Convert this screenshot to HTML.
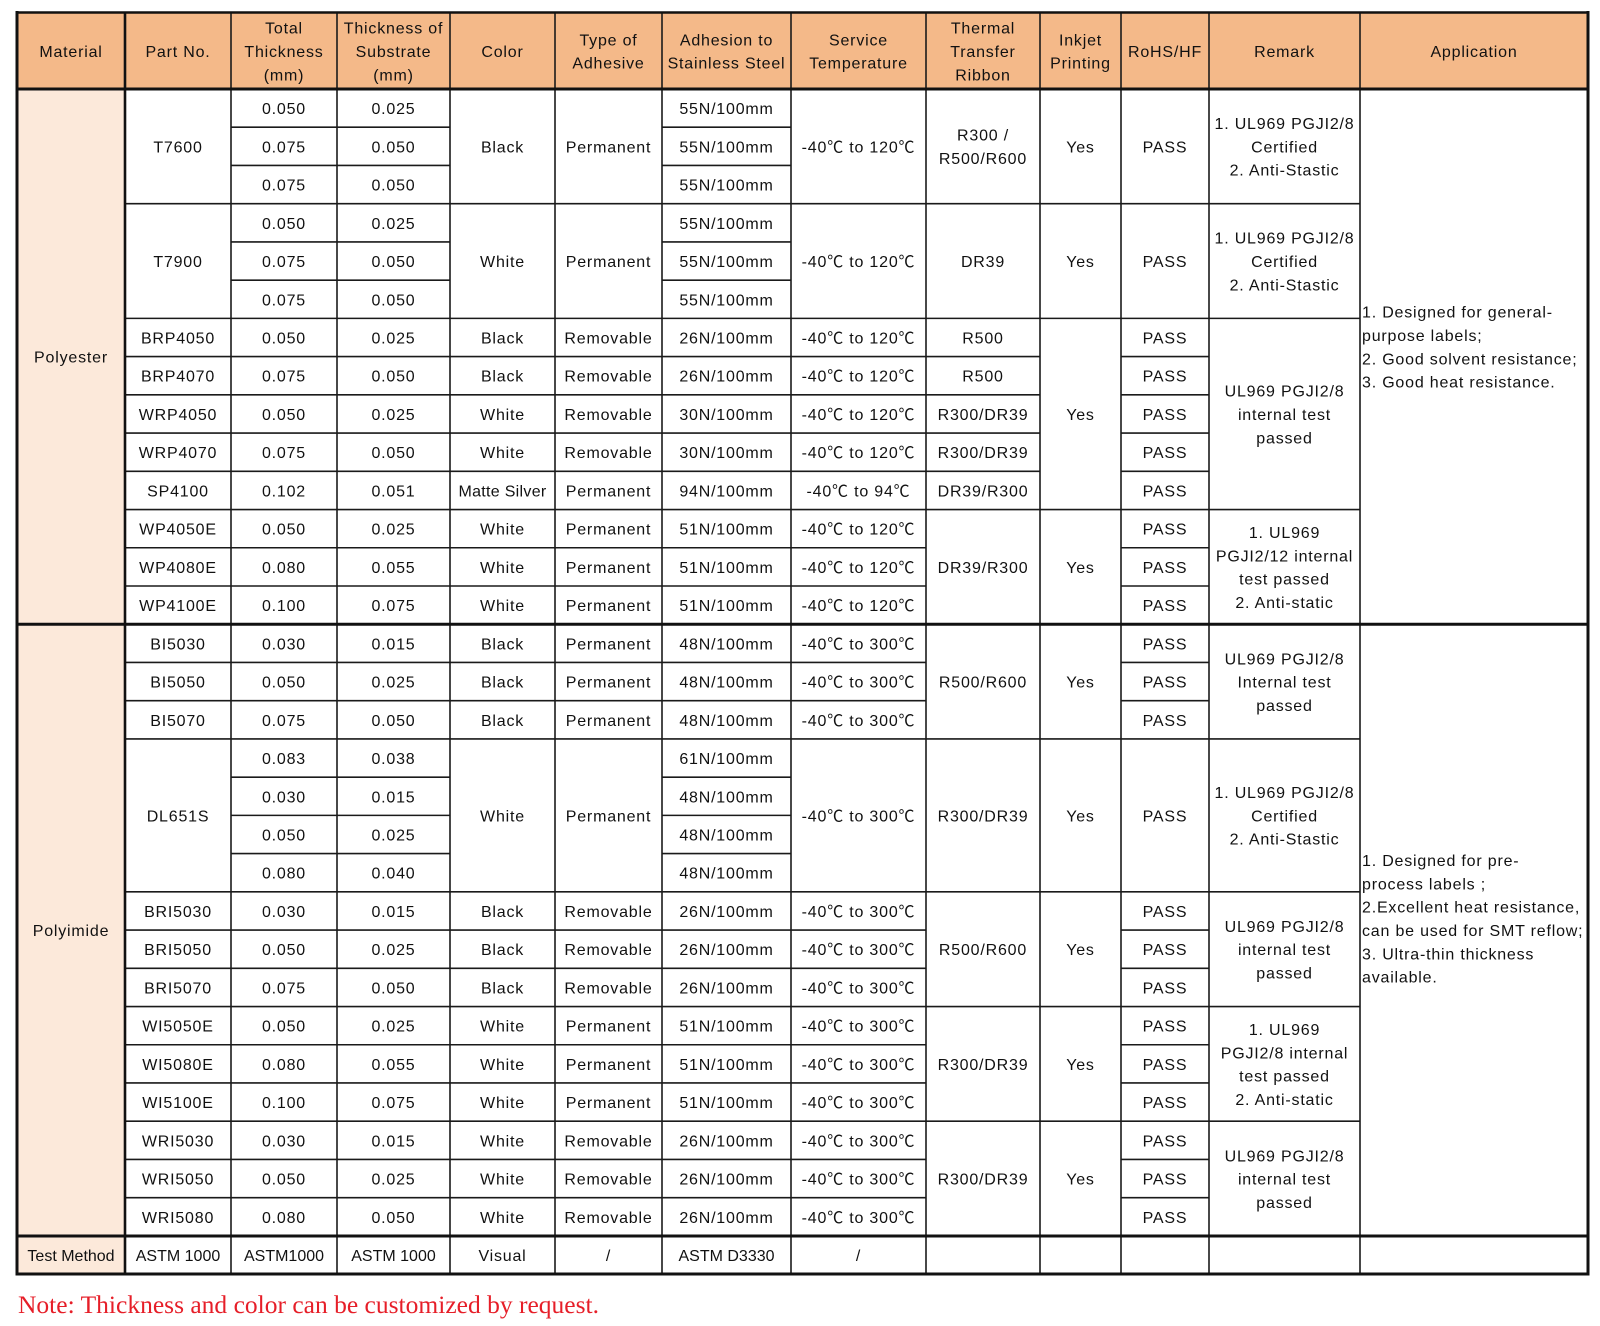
<!DOCTYPE html>
<html><head><meta charset="utf-8"><style>
html,body{margin:0;padding:0;background:#fff;}
svg{display:block;}
text{font-family:"Liberation Sans","Noto Sans CJK SC",sans-serif;font-size:16px;letter-spacing:0.8px;fill:#111;}
.c{text-anchor:middle;}
.note{font-family:"Liberation Serif","Noto Serif CJK SC",serif;font-size:25px;letter-spacing:0;fill:#E61E28;}
</style></head><body>
<svg width="1600" height="1326" viewBox="0 0 1600 1326" xmlns="http://www.w3.org/2000/svg">
<rect x="0" y="0" width="1600" height="1326" fill="#fff"/>
<!-- fills -->
<rect x="17" y="12.5" width="1571" height="76.5" fill="#F4B989"/>
<rect x="17" y="89" width="108" height="1185" fill="#FCE9DA"/>

<!-- thin horizontal lines -->
<g stroke="#1a1a1a" stroke-width="1.6">
<!-- b1,b2,b4,b5,b18,b19,b20 -->
<line x1="231" x2="450" y1="127.23" y2="127.23"/><line x1="662" x2="791" y1="127.23" y2="127.23"/>
<line x1="231" x2="450" y1="165.46" y2="165.46"/><line x1="662" x2="791" y1="165.46" y2="165.46"/>
<line x1="231" x2="450" y1="241.92" y2="241.92"/><line x1="662" x2="791" y1="241.92" y2="241.92"/>
<line x1="231" x2="450" y1="280.15" y2="280.15"/><line x1="662" x2="791" y1="280.15" y2="280.15"/>
<line x1="231" x2="450" y1="777.14" y2="777.14"/><line x1="662" x2="791" y1="777.14" y2="777.14"/>
<line x1="231" x2="450" y1="815.37" y2="815.37"/><line x1="662" x2="791" y1="815.37" y2="815.37"/>
<line x1="231" x2="450" y1="853.6" y2="853.6"/><line x1="662" x2="791" y1="853.6" y2="853.6"/>
<!-- full inner: b3,b6,b11,b17,b21,b24,b27 -->
<line x1="125" x2="1360" y1="203.69" y2="203.69"/>
<line x1="125" x2="1360" y1="318.38" y2="318.38"/>
<line x1="125" x2="1360" y1="509.53" y2="509.53"/>
<line x1="125" x2="1360" y1="738.91" y2="738.91"/>
<line x1="125" x2="1360" y1="891.83" y2="891.83"/>
<line x1="125" x2="1360" y1="1006.52" y2="1006.52"/>
<line x1="125" x2="1360" y1="1121.21" y2="1121.21"/>
<!-- b7..b10 -->
<line x1="125" x2="1040" y1="356.61" y2="356.61"/><line x1="1121" x2="1209" y1="356.61" y2="356.61"/>
<line x1="125" x2="1040" y1="394.84" y2="394.84"/><line x1="1121" x2="1209" y1="394.84" y2="394.84"/>
<line x1="125" x2="1040" y1="433.07" y2="433.07"/><line x1="1121" x2="1209" y1="433.07" y2="433.07"/>
<line x1="125" x2="1040" y1="471.3" y2="471.3"/><line x1="1121" x2="1209" y1="471.3" y2="471.3"/>
<!-- b12,13,15,16,22,23,25,26,28,29 -->
<line x1="125" x2="926" y1="547.76" y2="547.76"/><line x1="1121" x2="1209" y1="547.76" y2="547.76"/>
<line x1="125" x2="926" y1="585.99" y2="585.99"/><line x1="1121" x2="1209" y1="585.99" y2="585.99"/>
<line x1="125" x2="926" y1="662.45" y2="662.45"/><line x1="1121" x2="1209" y1="662.45" y2="662.45"/>
<line x1="125" x2="926" y1="700.68" y2="700.68"/><line x1="1121" x2="1209" y1="700.68" y2="700.68"/>
<line x1="125" x2="926" y1="930.06" y2="930.06"/><line x1="1121" x2="1209" y1="930.06" y2="930.06"/>
<line x1="125" x2="926" y1="968.29" y2="968.29"/><line x1="1121" x2="1209" y1="968.29" y2="968.29"/>
<line x1="125" x2="926" y1="1044.75" y2="1044.75"/><line x1="1121" x2="1209" y1="1044.75" y2="1044.75"/>
<line x1="125" x2="926" y1="1082.98" y2="1082.98"/><line x1="1121" x2="1209" y1="1082.98" y2="1082.98"/>
<line x1="125" x2="926" y1="1159.44" y2="1159.44"/><line x1="1121" x2="1209" y1="1159.44" y2="1159.44"/>
<line x1="125" x2="926" y1="1197.67" y2="1197.67"/><line x1="1121" x2="1209" y1="1197.67" y2="1197.67"/>
<!-- vertical thin -->
<line x1="231" x2="231" y1="12.5" y2="1274"/>
<line x1="337" x2="337" y1="12.5" y2="1274"/>
<line x1="450" x2="450" y1="12.5" y2="1274"/>
<line x1="555" x2="555" y1="12.5" y2="1274"/>
<line x1="662" x2="662" y1="12.5" y2="1274"/>
<line x1="791" x2="791" y1="12.5" y2="1274"/>
<line x1="926" x2="926" y1="12.5" y2="1274"/>
<line x1="1040" x2="1040" y1="12.5" y2="1274"/>
<line x1="1121" x2="1121" y1="12.5" y2="1274"/>
<line x1="1209" x2="1209" y1="12.5" y2="1274"/>
<line x1="1360" x2="1360" y1="12.5" y2="1274"/>
</g>
<!-- thick lines -->
<g stroke="#111" stroke-width="3">
<line x1="125" x2="125" y1="12.5" y2="1274" stroke-width="2.6"/>
<line x1="17" x2="17" y1="11" y2="1275.5"/>
<line x1="1588" x2="1588" y1="11" y2="1275.5"/>
<line x1="17" x2="1588" y1="12.5" y2="12.5" stroke-width="2.4"/>
<line x1="17" x2="1588" y1="89" y2="89"/>
<line x1="17" x2="1588" y1="624.22" y2="624.22"/>
<line x1="17" x2="1588" y1="1236" y2="1236"/>
<line x1="17" x2="1588" y1="1274" y2="1274"/>
</g>

<!-- header -->
<text class="c" x="71" y="57">Material</text>
<text class="c" x="178" y="57">Part No.</text>
<text class="c" x="284" y="33.7">Total</text><text class="c" x="284" y="57">Thickness</text><text class="c" x="284" y="80.3">(mm)</text>
<text class="c" x="393.5" y="33.7">Thickness of</text><text class="c" x="393.5" y="57">Substrate</text><text class="c" x="393.5" y="80.3">(mm)</text>
<text class="c" x="502.5" y="57">Color</text>
<text class="c" x="608.5" y="45.4">Type of</text><text class="c" x="608.5" y="68.7">Adhesive</text>
<text class="c" x="726.5" y="45.4">Adhesion to</text><text class="c" x="726.5" y="68.7">Stainless Steel</text>
<text class="c" x="858.5" y="45.4">Service</text><text class="c" x="858.5" y="68.7">Temperature</text>
<text class="c" x="983" y="33.7">Thermal</text><text class="c" x="983" y="57">Transfer</text><text class="c" x="983" y="80.3">Ribbon</text>
<text class="c" x="1080.5" y="45.4">Inkjet</text><text class="c" x="1080.5" y="68.7">Printing</text>
<text class="c" x="1165" y="57">RoHS/HF</text>
<text class="c" x="1284.5" y="57">Remark</text>
<text class="c" x="1474" y="57">Application</text>

<!-- Material -->
<text class="c" x="71" y="362.6">Polyester</text>
<text class="c" x="71" y="936.1">Polyimide</text>

<!-- Part No -->
<text class="c" x="178" y="152.3">T7600</text>
<text class="c" x="178" y="267.0">T7900</text>
<text class="c" x="178" y="343.5">BRP4050</text>
<text class="c" x="178" y="381.7">BRP4070</text>
<text class="c" x="178" y="420.0">WRP4050</text>
<text class="c" x="178" y="458.2">WRP4070</text>
<text class="c" x="178" y="496.4">SP4100</text>
<text class="c" x="178" y="534.6">WP4050E</text>
<text class="c" x="178" y="572.9">WP4080E</text>
<text class="c" x="178" y="611.1">WP4100E</text>
<text class="c" x="178" y="649.3">BI5030</text>
<text class="c" x="178" y="687.6">BI5050</text>
<text class="c" x="178" y="725.8">BI5070</text>
<text class="c" x="178" y="821.4">DL651S</text>
<text class="c" x="178" y="917.0">BRI5030</text>
<text class="c" x="178" y="955.2">BRI5050</text>
<text class="c" x="178" y="993.4">BRI5070</text>
<text class="c" x="178" y="1031.7">WI5050E</text>
<text class="c" x="178" y="1069.9">WI5080E</text>
<text class="c" x="178" y="1108.1">WI5100E</text>
<text class="c" x="178" y="1146.3">WRI5030</text>
<text class="c" x="178" y="1184.6">WRI5050</text>
<text class="c" x="178" y="1222.8">WRI5080</text>

<!-- Total thickness -->
<text class="c" x="284" y="114.1">0.050</text>
<text class="c" x="284" y="152.3">0.075</text>
<text class="c" x="284" y="190.6">0.075</text>
<text class="c" x="284" y="228.8">0.050</text>
<text class="c" x="284" y="267.0">0.075</text>
<text class="c" x="284" y="305.3">0.075</text>
<text class="c" x="284" y="343.5">0.050</text>
<text class="c" x="284" y="381.7">0.075</text>
<text class="c" x="284" y="420.0">0.050</text>
<text class="c" x="284" y="458.2">0.075</text>
<text class="c" x="284" y="496.4">0.102</text>
<text class="c" x="284" y="534.6">0.050</text>
<text class="c" x="284" y="572.9">0.080</text>
<text class="c" x="284" y="611.1">0.100</text>
<text class="c" x="284" y="649.3">0.030</text>
<text class="c" x="284" y="687.6">0.050</text>
<text class="c" x="284" y="725.8">0.075</text>
<text class="c" x="284" y="764.0">0.083</text>
<text class="c" x="284" y="802.3">0.030</text>
<text class="c" x="284" y="840.5">0.050</text>
<text class="c" x="284" y="878.7">0.080</text>
<text class="c" x="284" y="917.0">0.030</text>
<text class="c" x="284" y="955.2">0.050</text>
<text class="c" x="284" y="993.4">0.075</text>
<text class="c" x="284" y="1031.7">0.050</text>
<text class="c" x="284" y="1069.9">0.080</text>
<text class="c" x="284" y="1108.1">0.100</text>
<text class="c" x="284" y="1146.3">0.030</text>
<text class="c" x="284" y="1184.6">0.050</text>
<text class="c" x="284" y="1222.8">0.080</text>

<!-- Substrate -->
<text class="c" x="393.5" y="114.1">0.025</text>
<text class="c" x="393.5" y="152.3">0.050</text>
<text class="c" x="393.5" y="190.6">0.050</text>
<text class="c" x="393.5" y="228.8">0.025</text>
<text class="c" x="393.5" y="267.0">0.050</text>
<text class="c" x="393.5" y="305.3">0.050</text>
<text class="c" x="393.5" y="343.5">0.025</text>
<text class="c" x="393.5" y="381.7">0.050</text>
<text class="c" x="393.5" y="420.0">0.025</text>
<text class="c" x="393.5" y="458.2">0.050</text>
<text class="c" x="393.5" y="496.4">0.051</text>
<text class="c" x="393.5" y="534.6">0.025</text>
<text class="c" x="393.5" y="572.9">0.055</text>
<text class="c" x="393.5" y="611.1">0.075</text>
<text class="c" x="393.5" y="649.3">0.015</text>
<text class="c" x="393.5" y="687.6">0.025</text>
<text class="c" x="393.5" y="725.8">0.050</text>
<text class="c" x="393.5" y="764.0">0.038</text>
<text class="c" x="393.5" y="802.3">0.015</text>
<text class="c" x="393.5" y="840.5">0.025</text>
<text class="c" x="393.5" y="878.7">0.040</text>
<text class="c" x="393.5" y="917.0">0.015</text>
<text class="c" x="393.5" y="955.2">0.025</text>
<text class="c" x="393.5" y="993.4">0.050</text>
<text class="c" x="393.5" y="1031.7">0.025</text>
<text class="c" x="393.5" y="1069.9">0.055</text>
<text class="c" x="393.5" y="1108.1">0.075</text>
<text class="c" x="393.5" y="1146.3">0.015</text>
<text class="c" x="393.5" y="1184.6">0.025</text>
<text class="c" x="393.5" y="1222.8">0.050</text>

<!-- Color -->
<text class="c" x="502.5" y="152.3">Black</text>
<text class="c" x="502.5" y="267.0">White</text>
<text class="c" x="502.5" y="343.5">Black</text>
<text class="c" x="502.5" y="381.7">Black</text>
<text class="c" x="502.5" y="420.0">White</text>
<text class="c" x="502.5" y="458.2">White</text>
<text class="c" x="502.5" y="496.4" style="letter-spacing:0.3px">Matte Silver</text>
<text class="c" x="502.5" y="534.6">White</text>
<text class="c" x="502.5" y="572.9">White</text>
<text class="c" x="502.5" y="611.1">White</text>
<text class="c" x="502.5" y="649.3">Black</text>
<text class="c" x="502.5" y="687.6">Black</text>
<text class="c" x="502.5" y="725.8">Black</text>
<text class="c" x="502.5" y="821.4">White</text>
<text class="c" x="502.5" y="917.0">Black</text>
<text class="c" x="502.5" y="955.2">Black</text>
<text class="c" x="502.5" y="993.4">Black</text>
<text class="c" x="502.5" y="1031.7">White</text>
<text class="c" x="502.5" y="1069.9">White</text>
<text class="c" x="502.5" y="1108.1">White</text>
<text class="c" x="502.5" y="1146.3">White</text>
<text class="c" x="502.5" y="1184.6">White</text>
<text class="c" x="502.5" y="1222.8">White</text>

<!-- Type of adhesive -->
<text class="c" x="608.5" y="152.3">Permanent</text>
<text class="c" x="608.5" y="267.0">Permanent</text>
<text class="c" x="608.5" y="343.5">Removable</text>
<text class="c" x="608.5" y="381.7">Removable</text>
<text class="c" x="608.5" y="420.0">Removable</text>
<text class="c" x="608.5" y="458.2">Removable</text>
<text class="c" x="608.5" y="496.4">Permanent</text>
<text class="c" x="608.5" y="534.6">Permanent</text>
<text class="c" x="608.5" y="572.9">Permanent</text>
<text class="c" x="608.5" y="611.1">Permanent</text>
<text class="c" x="608.5" y="649.3">Permanent</text>
<text class="c" x="608.5" y="687.6">Permanent</text>
<text class="c" x="608.5" y="725.8">Permanent</text>
<text class="c" x="608.5" y="821.4">Permanent</text>
<text class="c" x="608.5" y="917.0">Removable</text>
<text class="c" x="608.5" y="955.2">Removable</text>
<text class="c" x="608.5" y="993.4">Removable</text>
<text class="c" x="608.5" y="1031.7">Permanent</text>
<text class="c" x="608.5" y="1069.9">Permanent</text>
<text class="c" x="608.5" y="1108.1">Permanent</text>
<text class="c" x="608.5" y="1146.3">Removable</text>
<text class="c" x="608.5" y="1184.6">Removable</text>
<text class="c" x="608.5" y="1222.8">Removable</text>

<!-- Adhesion -->
<text class="c" x="726.5" y="114.1">55N/100mm</text>
<text class="c" x="726.5" y="152.3">55N/100mm</text>
<text class="c" x="726.5" y="190.6">55N/100mm</text>
<text class="c" x="726.5" y="228.8">55N/100mm</text>
<text class="c" x="726.5" y="267.0">55N/100mm</text>
<text class="c" x="726.5" y="305.3">55N/100mm</text>
<text class="c" x="726.5" y="343.5">26N/100mm</text>
<text class="c" x="726.5" y="381.7">26N/100mm</text>
<text class="c" x="726.5" y="420.0">30N/100mm</text>
<text class="c" x="726.5" y="458.2">30N/100mm</text>
<text class="c" x="726.5" y="496.4">94N/100mm</text>
<text class="c" x="726.5" y="534.6">51N/100mm</text>
<text class="c" x="726.5" y="572.9">51N/100mm</text>
<text class="c" x="726.5" y="611.1">51N/100mm</text>
<text class="c" x="726.5" y="649.3">48N/100mm</text>
<text class="c" x="726.5" y="687.6">48N/100mm</text>
<text class="c" x="726.5" y="725.8">48N/100mm</text>
<text class="c" x="726.5" y="764.0">61N/100mm</text>
<text class="c" x="726.5" y="802.3">48N/100mm</text>
<text class="c" x="726.5" y="840.5">48N/100mm</text>
<text class="c" x="726.5" y="878.7">48N/100mm</text>
<text class="c" x="726.5" y="917.0">26N/100mm</text>
<text class="c" x="726.5" y="955.2">26N/100mm</text>
<text class="c" x="726.5" y="993.4">26N/100mm</text>
<text class="c" x="726.5" y="1031.7">51N/100mm</text>
<text class="c" x="726.5" y="1069.9">51N/100mm</text>
<text class="c" x="726.5" y="1108.1">51N/100mm</text>
<text class="c" x="726.5" y="1146.3">26N/100mm</text>
<text class="c" x="726.5" y="1184.6">26N/100mm</text>
<text class="c" x="726.5" y="1222.8">26N/100mm</text>

<!-- Service temperature -->
<g style="letter-spacing:0.3px">
<text class="c" x="858.5" y="152.3">-40℃ to 120℃</text>
<text class="c" x="858.5" y="267.0">-40℃ to 120℃</text>
<text class="c" x="858.5" y="343.5">-40℃ to 120℃</text>
<text class="c" x="858.5" y="381.7">-40℃ to 120℃</text>
<text class="c" x="858.5" y="420.0">-40℃ to 120℃</text>
<text class="c" x="858.5" y="458.2">-40℃ to 120℃</text>
<text class="c" x="858.5" y="496.4">-40℃ to 94℃</text>
<text class="c" x="858.5" y="534.6">-40℃ to 120℃</text>
<text class="c" x="858.5" y="572.9">-40℃ to 120℃</text>
<text class="c" x="858.5" y="611.1">-40℃ to 120℃</text>
<text class="c" x="858.5" y="649.3">-40℃ to 300℃</text>
<text class="c" x="858.5" y="687.6">-40℃ to 300℃</text>
<text class="c" x="858.5" y="725.8">-40℃ to 300℃</text>
<text class="c" x="858.5" y="821.4">-40℃ to 300℃</text>
<text class="c" x="858.5" y="917.0">-40℃ to 300℃</text>
<text class="c" x="858.5" y="955.2">-40℃ to 300℃</text>
<text class="c" x="858.5" y="993.4">-40℃ to 300℃</text>
<text class="c" x="858.5" y="1031.7">-40℃ to 300℃</text>
<text class="c" x="858.5" y="1069.9">-40℃ to 300℃</text>
<text class="c" x="858.5" y="1108.1">-40℃ to 300℃</text>
<text class="c" x="858.5" y="1146.3">-40℃ to 300℃</text>
<text class="c" x="858.5" y="1184.6">-40℃ to 300℃</text>
<text class="c" x="858.5" y="1222.8">-40℃ to 300℃</text>
</g>

<!-- Thermal transfer ribbon -->
<text class="c" x="983" y="140.7">R300 /</text>
<text class="c" x="983" y="164.0">R500/R600</text>
<text class="c" x="983" y="267.0">DR39</text>
<text class="c" x="983" y="343.5">R500</text>
<text class="c" x="983" y="381.7">R500</text>
<text class="c" x="983" y="420.0">R300/DR39</text>
<text class="c" x="983" y="458.2">R300/DR39</text>
<text class="c" x="983" y="496.4">DR39/R300</text>
<text class="c" x="983" y="572.9">DR39/R300</text>
<text class="c" x="983" y="687.6">R500/R600</text>
<text class="c" x="983" y="821.4">R300/DR39</text>
<text class="c" x="983" y="955.2">R500/R600</text>
<text class="c" x="983" y="1069.9">R300/DR39</text>
<text class="c" x="983" y="1184.6">R300/DR39</text>

<!-- Inkjet -->
<text class="c" x="1080.5" y="152.3">Yes</text>
<text class="c" x="1080.5" y="267.0">Yes</text>
<text class="c" x="1080.5" y="420.0">Yes</text>
<text class="c" x="1080.5" y="572.9">Yes</text>
<text class="c" x="1080.5" y="687.6">Yes</text>
<text class="c" x="1080.5" y="821.4">Yes</text>
<text class="c" x="1080.5" y="955.2">Yes</text>
<text class="c" x="1080.5" y="1069.9">Yes</text>
<text class="c" x="1080.5" y="1184.6">Yes</text>

<!-- RoHS -->
<text class="c" x="1165" y="152.3">PASS</text>
<text class="c" x="1165" y="267.0">PASS</text>
<text class="c" x="1165" y="343.5">PASS</text>
<text class="c" x="1165" y="381.7">PASS</text>
<text class="c" x="1165" y="420.0">PASS</text>
<text class="c" x="1165" y="458.2">PASS</text>
<text class="c" x="1165" y="496.4">PASS</text>
<text class="c" x="1165" y="534.6">PASS</text>
<text class="c" x="1165" y="572.9">PASS</text>
<text class="c" x="1165" y="611.1">PASS</text>
<text class="c" x="1165" y="649.3">PASS</text>
<text class="c" x="1165" y="687.6">PASS</text>
<text class="c" x="1165" y="725.8">PASS</text>
<text class="c" x="1165" y="821.4">PASS</text>
<text class="c" x="1165" y="917.0">PASS</text>
<text class="c" x="1165" y="955.2">PASS</text>
<text class="c" x="1165" y="993.4">PASS</text>
<text class="c" x="1165" y="1031.7">PASS</text>
<text class="c" x="1165" y="1069.9">PASS</text>
<text class="c" x="1165" y="1108.1">PASS</text>
<text class="c" x="1165" y="1146.3">PASS</text>
<text class="c" x="1165" y="1184.6">PASS</text>
<text class="c" x="1165" y="1222.8">PASS</text>

<!-- Remark -->
<g style="letter-spacing:0.5px">
<text class="c" x="1284.5" y="129.0">1. UL969 PGJI2/8</text>
<text class="c" x="1284.5" y="152.3">Certified</text>
<text class="c" x="1284.5" y="175.6">2. Anti-Stastic</text>

<text class="c" x="1284.5" y="243.7">1. UL969 PGJI2/8</text>
<text class="c" x="1284.5" y="267.0">Certified</text>
<text class="c" x="1284.5" y="290.3">2.  Anti-Stastic</text>

<text class="c" x="1284.5" y="396.7">UL969 PGJI2/8</text>
<text class="c" x="1284.5" y="420.0">internal test</text>
<text class="c" x="1284.5" y="443.3">passed</text>

<text class="c" x="1284.5" y="538.0">1. UL969</text>
<text class="c" x="1284.5" y="561.3">PGJI2/12 internal</text>
<text class="c" x="1284.5" y="584.6">test passed</text>
<text class="c" x="1284.5" y="607.9">2. Anti-static</text>

<text class="c" x="1284.5" y="664.3">UL969 PGJI2/8</text>
<text class="c" x="1284.5" y="687.6">Internal test</text>
<text class="c" x="1284.5" y="710.9">passed</text>

<text class="c" x="1284.5" y="798.1">1. UL969 PGJI2/8</text>
<text class="c" x="1284.5" y="821.4">Certified</text>
<text class="c" x="1284.5" y="844.7">2.  Anti-Stastic</text>

<text class="c" x="1284.5" y="931.9">UL969 PGJI2/8</text>
<text class="c" x="1284.5" y="955.2">internal test</text>
<text class="c" x="1284.5" y="978.5">passed</text>

<text class="c" x="1284.5" y="1035.0">1.  UL969</text>
<text class="c" x="1284.5" y="1058.3">PGJI2/8 internal</text>
<text class="c" x="1284.5" y="1081.6">test passed</text>
<text class="c" x="1284.5" y="1104.9">2.  Anti-static</text>

<text class="c" x="1284.5" y="1161.3">UL969 PGJI2/8</text>
<text class="c" x="1284.5" y="1184.6">internal test</text>
<text class="c" x="1284.5" y="1207.9">passed</text>
</g>

<!-- Application -->
<g style="letter-spacing:0.6px">
<text x="1362" y="317.7">1. Designed for general-</text>
<text x="1362" y="341.0">purpose labels;</text>
<text x="1362" y="364.3">2. Good solvent resistance;</text>
<text x="1362" y="387.7">3. Good heat resistance.</text>

<text x="1362" y="866.0">1. Designed for pre-</text>
<text x="1362" y="889.3">process labels ;</text>
<text x="1362" y="912.7">2.Excellent heat resistance,</text>
<text x="1362" y="936.0">can be used for SMT reflow;</text>
<text x="1362" y="959.3">3. Ultra-thin thickness</text>
<text x="1362" y="982.7">available.</text>
</g>

<!-- Test method row -->
<text class="c" x="71" y="1261" style="letter-spacing:0px">Test Method</text>
<text class="c" x="178" y="1261" style="letter-spacing:0px">ASTM 1000</text>
<text class="c" x="284" y="1261" style="letter-spacing:0px">ASTM1000</text>
<text class="c" x="393.5" y="1261" style="letter-spacing:0px">ASTM 1000</text>
<text class="c" x="502.5" y="1261">Visual</text>
<text class="c" x="608.5" y="1261">/</text>
<text class="c" x="726.5" y="1261" style="letter-spacing:0px">ASTM D3330</text>
<text class="c" x="858.5" y="1261">/</text>

<!-- Note -->
<text class="note" x="18" y="1313" textLength="581" lengthAdjust="spacingAndGlyphs">Note: Thickness  and color can be customized by request.</text>
</svg>
</body></html>
